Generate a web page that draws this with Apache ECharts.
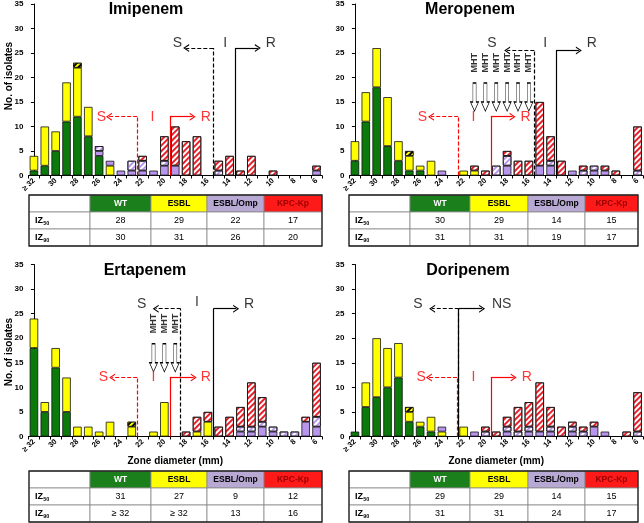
<!DOCTYPE html>
<html><head><meta charset="utf-8">
<script src="https://cdn.jsdelivr.net/npm/echarts@6/dist/echarts.min.js"></script>
<style>html,body{margin:0;padding:0;background:#fff}#c{width:644px;height:523px}</style>
</head><body><div id="c"></div>
<script>
// ---------- DATA ----------
const categories = ['≥ 32','31','30','29','28','27','26','25','24','23','22','21','20','19','18','17','16','15','14','13','12','11','10','9','8','7','6'];
const drugNames = ['Imipenem','Meropenem','Ertapenem','Doripenem'];
const groupNames = ['WT','ESBL','ESBL/Omp','KPC-Kp'];

const imipenemWT    = [1,2,5,11,12,8,4,0,0,0,0,0,0,0,0,0,0,0,0,0,0,0,0,0,0,0,0];
const imipenemESBL  = [3,8,4,8,10,6,0,2,0,0,0,0,0,0,0,0,0,0,0,0,0,0,0,0,0,0,0];
const imipenemESBLx = [0,0,0,0,1,0,0,0,0,0,0,0,0,0,0,0,0,0,0,0,0,0,0,0,0,0,0];
const imipenemOmp   = [0,0,0,0,0,0,1,1,1,1,1,1,2,2,0,0,0,0,0,0,0,0,0,0,0,0,1];
const imipenemOmpH  = [0,0,0,0,0,0,1,0,0,2,2,0,1,0,0,0,0,1,0,0,0,0,0,0,0,0,0];
const imipenemKPC   = [0,0,0,0,0,0,0,0,0,0,1,0,5,8,7,8,0,2,4,1,4,0,1,0,0,0,1];

const meropenemWT    = [3,11,18,6,3,1,1,0,0,0,0,0,0,0,0,0,0,0,0,0,0,0,0,0,0,0,0];
const meropenemESBL  = [4,6,8,10,4,3,1,3,0,0,1,1,0,0,0,0,0,0,0,0,0,0,0,0,0,0,0];
const meropenemESBLx = [0,0,0,0,0,1,0,0,0,0,0,0,0,0,0,0,0,0,0,0,0,0,0,0,0,0,0];
const meropenemOmp   = [0,0,0,0,0,0,0,0,1,0,0,0,0,0,2,0,0,2,2,0,1,0,1,1,0,0,0];
const meropenemOmpH  = [0,0,0,0,0,0,0,0,0,0,0,0,0,2,2,0,0,0,1,0,0,1,1,0,0,0,1];
const meropenemKPC   = [0,0,0,0,0,0,0,0,0,0,0,1,1,0,1,3,3,13,5,3,0,1,0,1,1,0,9];

const ertapenemWT    = [18,5,14,5,0,0,0,0,0,0,0,0,0,0,0,0,0,0,0,0,0,0,0,0,0,0,0];
const ertapenemESBL  = [6,2,4,7,2,2,1,3,0,2,0,1,7,0,0,1,3,0,0,0,0,0,0,0,0,0,0];
const ertapenemESBLx = [0,0,0,0,0,0,0,0,0,1,0,0,0,0,0,0,0,0,0,0,0,0,0,0,0,0,0];
const ertapenemOmp   = [0,0,0,0,0,0,0,0,0,0,0,0,0,0,0,0,0,0,0,1,1,2,1,0,0,3,2];
const ertapenemOmpH  = [0,0,0,0,0,0,0,0,0,0,0,0,0,0,0,0,0,0,0,1,1,1,1,1,1,0,2];
const ertapenemKPC   = [0,0,0,0,0,0,0,0,0,0,0,0,0,0,1,3,2,2,4,4,9,5,0,0,0,1,11];

const doripenemWT    = [1,6,8,10,12,3,2,1,0,0,0,0,0,0,0,0,0,0,0,0,0,0,0,0,0,0,0];
const doripenemESBL  = [0,5,12,8,7,2,1,3,1,0,2,0,0,0,0,0,0,0,0,0,0,0,0,0,0,0,0];
const doripenemESBLx = [0,0,0,0,0,1,0,0,0,0,0,0,0,0,0,0,0,0,0,0,0,0,0,0,0,0,0];
const doripenemOmp   = [0,0,0,0,0,0,0,0,1,0,0,1,0,0,1,0,1,1,1,0,1,0,2,1,0,0,0];
const doripenemOmpH  = [0,0,0,0,0,0,0,0,0,0,0,0,1,0,1,1,1,0,1,0,1,1,0,0,0,0,1];
const doripenemKPC   = [0,0,0,0,0,0,0,0,0,0,0,0,1,1,2,5,5,10,4,2,1,1,1,0,0,1,8];

const imipenemIZ50  = ['28','29','22','17'];
const imipenemIZ90  = ['30','31','26','20'];
const meropenemIZ50 = ['30','29','14','15'];
const meropenemIZ90 = ['31','31','19','17'];
const ertapenemIZ50 = ['31','27','9','12'];
const ertapenemIZ90 = ['≥ 32','≥ 32','13','16'];
const doripenemIZ50 = ['29','29','14','15'];
const doripenemIZ90 = ['31','31','24','17'];

// breakpoint guides (positions in category units; 0 = "≥ 32")
const imipenemGuides  = [{x:9.5,y:12,to:6.9,d:true,c:'red'},{x:12.5,y:12,to:14.6,d:false,c:'red'},{x:16.5,y:26,to:14.0,d:true,c:'black'},{x:18.5,y:26,to:20.6,d:false,c:'black'}];
const imipenemMarks   = [{x:6.2,y:12,t:'S',c:'red'},{x:10.9,y:12,t:'I',c:'red'},{x:15.8,y:12,t:'R',c:'red'},{x:13.2,y:27,t:'S',c:'black'},{x:17.6,y:27,t:'I',c:'black'},{x:21.8,y:27,t:'R',c:'black'}];
const meropenemGuides = [{x:9.5,y:12,to:7.0,d:true,c:'red'},{x:12.5,y:12,to:14.5,d:false,c:'red'},{x:16.5,y:25.5,to:14.0,d:true,c:'black'},{x:18.5,y:25.5,to:20.6,d:false,c:'black'}];
const meropenemMarks  = [{x:6.2,y:12,t:'S',c:'red'},{x:10.9,y:12,t:'I',c:'red'},{x:15.7,y:12,t:'R',c:'red'},{x:12.6,y:27,t:'S',c:'black'},{x:17.5,y:27,t:'I',c:'black'},{x:21.8,y:27,t:'R',c:'black'}];
const meropenemMHT    = [11,12,13,14,15,16];
const ertapenemGuides = [{x:9.5,y:12,to:7.2,d:true,c:'red'},{x:12.5,y:12,to:14.7,d:false,c:'red'},{x:13.5,y:26,to:11.2,d:true,c:'black'},{x:16.5,y:26,to:18.6,d:false,c:'black'}];
const ertapenemMarks  = [{x:6.4,y:12,t:'S',c:'red'},{x:11.0,y:12,t:'I',c:'red'},{x:15.8,y:12,t:'R',c:'red'},{x:9.9,y:27,t:'S',c:'black'},{x:15.0,y:27.3,t:'I',c:'black'},{x:19.8,y:27,t:'R',c:'black'}];
const ertapenemMHT    = [11,12,13];
const doripenemGuides = [{x:9.4,y:12,to:6.8,d:true,c:'red'},{x:12.5,y:12,to:14.6,d:false,c:'red'},{x:9.55,y:26,to:7.1,d:true,c:'black'},{x:9.55,y:26,to:11.7,d:false,c:'black'}];
const doripenemMarks  = [{x:6.1,y:12,t:'S',c:'red'},{x:10.9,y:12,t:'I',c:'red'},{x:15.8,y:12,t:'R',c:'red'},{x:5.8,y:27,t:'S',c:'black'},{x:13.5,y:27,t:'NS',c:'black'}];

// ---------- LAYOUT / STYLE ----------
const FONT = 'Arial, "Liberation Sans", sans-serif';
const GREEN = '#0b7a0b', YELLOW = '#ffff00', LAV = '#b996ee', RED = '#e8202a';
const GW = 293.5, GH = 172;
const panels = [
  {wt:imipenemWT, esbl:imipenemESBL, esblx:imipenemESBLx, omp:imipenemOmp, omph:imipenemOmpH, kpc:imipenemKPC, iz50:imipenemIZ50, iz90:imipenemIZ90, guides:imipenemGuides, marks:imipenemMarks, mht:[], left:28.5, top:3.5, bottomRow:false},
  {wt:meropenemWT, esbl:meropenemESBL, esblx:meropenemESBLx, omp:meropenemOmp, omph:meropenemOmpH, kpc:meropenemKPC, iz50:meropenemIZ50, iz90:meropenemIZ90, guides:meropenemGuides, marks:meropenemMarks, mht:meropenemMHT, left:349.5, top:3.5, bottomRow:false},
  {wt:ertapenemWT, esbl:ertapenemESBL, esblx:ertapenemESBLx, omp:ertapenemOmp, omph:ertapenemOmpH, kpc:ertapenemKPC, iz50:ertapenemIZ50, iz90:ertapenemIZ90, guides:ertapenemGuides, marks:ertapenemMarks, mht:ertapenemMHT, left:28.5, top:264.5, bottomRow:true},
  {wt:doripenemWT, esbl:doripenemESBL, esblx:doripenemESBLx, omp:doripenemOmp, omph:doripenemOmpH, kpc:doripenemKPC, iz50:doripenemIZ50, iz90:doripenemIZ90, guides:doripenemGuides, marks:doripenemMarks, mht:[], left:349.5, top:264.5, bottomRow:true}
];

function stripes(color){
  return {symbol:'rect', symbolSize:1, color:color, dashArrayX:[1,0], dashArrayY:[1.6,1.6], rotation:-Math.PI/4};
}
const barStyles = [
  {key:'wt', style:{color:GREEN}},
  {key:'esbl', style:{color:YELLOW}},
  {key:'esblx', style:{color:'#000', decal:stripes(YELLOW)}},
  {key:'omp', style:{color:LAV}},
  {key:'omph', style:{color:'#fff', decal:stripes(LAV)}},
  {key:'kpc', style:{color:'#fff', decal:stripes(RED)}}
];
const CHEVRON = 'path://M0,10 L5,0 L10,10 L8.4,10 L5,3.2 L1.6,10 Z';
const MHT_ARROW = 'path://M3,0 L7,0 L7,19 L10,19 L5,28 L0,19 L3,19 Z';

const grid = [], xAxis = [], yAxis = [], series = [], graphic = [];

panels.forEach((p, k) => {
  grid.push({left:p.left, top:p.top, width:GW, height:GH, containLabel:false});
  xAxis.push({
    type:'category', gridIndex:k, data:categories,
    axisLine:{lineStyle:{color:'#000', width:1}},
    axisTick:{show:true, interval:0, length:3, lineStyle:{color:'#000'}},
    axisLabel:{interval:1, rotate:45, fontSize:7.5, fontWeight:'bold', color:'#000', fontFamily:FONT, margin:4},
    name: p.bottomRow ? 'Zone diameter (mm)' : '',
    nameLocation:'middle', nameGap:20,
    nameTextStyle:{fontSize:10, fontWeight:'bold', color:'#000', fontFamily:FONT}
  });
  xAxis.push({type:'value', gridIndex:k, min:-0.5, max:26.5, show:false});
  yAxis.push({
    type:'value', gridIndex:k, min:0, max:35, interval:5,
    splitLine:{show:false},
    axisLine:{show:true, lineStyle:{color:'#000', width:1}},
    axisTick:{show:true, length:3, lineStyle:{color:'#000'}},
    axisLabel:{fontSize:8, fontWeight:'bold', color:'#000', fontFamily:FONT, margin:5}
  });
  barStyles.forEach(b => {
    series.push({
      type:'bar', xAxisIndex:2*k, yAxisIndex:k, stack:'s'+k, barWidth:8.5, silent:true,
      data: p[b.key].map(v => v ? v : '-'),
      itemStyle: Object.assign({borderColor:'#111', borderWidth:0.8}, b.style)
    });
  });
  // guides + S/I/R labels
  const ml = [];
  p.guides.forEach(g => {
    const ls = {color:g.c, width:1.2, type: g.d ? [4,2] : 'solid'};
    ml.push([{coord:[g.x,0], lineStyle:ls}, {coord:[g.x,g.y]}]);
    ml.push([{coord:[g.x,g.y], lineStyle:ls}, {coord:[g.to,g.y], symbol:CHEVRON, symbolSize:[8,6]}]);
  });
  series.push({
    type:'scatter', xAxisIndex:2*k+1, yAxisIndex:k, symbolSize:0, silent:true, z:5,
    data: p.marks.map(m => ({value:[m.x,m.y], label:{show:true, position:'inside', formatter:m.t, color:m.c, fontSize:14, fontFamily:FONT}})),
    markLine:{silent:true, symbol:['none','none'], label:{show:false}, data:ml}
  });
  if (p.mht.length) {
    series.push({
      type:'scatter', xAxisIndex:2*k+1, yAxisIndex:k, silent:true, z:5,
      symbol:MHT_ARROW, symbolSize:[8,28],
      itemStyle:{color:'#fff', borderColor:'#000', borderWidth:0.8, opacity:1},
      data: p.mht.map(x => [x, 16])
    });
    series.push({
      type:'scatter', xAxisIndex:2*k+1, yAxisIndex:k, silent:true, z:5, symbolSize:0,
      label:{show:true, position:'inside', formatter:'MHT', rotate:90, fontSize:9, fontWeight:'bold', color:'#000', fontFamily:FONT},
      data: p.mht.map(x => [x, 23])
    });
  }
});

// ---------- titles, axis names, tables (graphic) ----------
function txt(x, y, t, font, fill, extra){
  graphic.push(Object.assign({type:'text', x:x, y:y, silent:true,
    style:{text:t, font:font, fill:fill||'#000', align:'center', verticalAlign:'middle', textAlign:'center', textVerticalAlign:'middle'}}, extra||{}));
}
const titlePos = [[146,10],[470,10],[145,271],[468,271]];
drugNames.forEach((n,i) => txt(titlePos[i][0], titlePos[i][1], n, 'bold 16px '+FONT));
txt(9, 76, 'No. of isolates', 'bold 10px '+FONT, '#000', {rotation:Math.PI/2});
txt(9, 352, 'No. of isolates', 'bold 10px '+FONT, '#000', {rotation:Math.PI/2});

const headFill = ['#ffffff','#1b7f1b','#ffff00','#b8a8d4','#ff1a1a'];
const headText = ['#000','#ffffff','#000','#000','#9b0000'];
function table(cols, rows, iz50, iz90){
  for (let r = 0; r < 3; r++) {
    for (let c = 0; c < 5; c++) {
      graphic.push({type:'rect', silent:true,
        shape:{x:cols[c], y:rows[r], width:cols[c+1]-cols[c], height:rows[r+1]-rows[r]},
        style:{fill: r===0 ? headFill[c] : '#fff', stroke:'#888', lineWidth:0.8}});
    }
  }
  graphic.push({type:'rect', silent:true, z:10,
    shape:{x:cols[0], y:rows[0], width:cols[5]-cols[0], height:rows[3]-rows[0]},
    style:{fill:null, stroke:'#222', lineWidth:1.3}});
  for (let c = 1; c < 5; c++) {
    const cx = (cols[c]+cols[c+1])/2;
    txt(cx, (rows[0]+rows[1])/2, groupNames[c-1], 'bold 8.5px '+FONT, headText[c], {z:11});
    txt(cx, (rows[1]+rows[2])/2, iz50[c-1], '9px '+FONT, '#000', {z:11});
    txt(cx, (rows[2]+rows[3])/2, iz90[c-1], '9px '+FONT, '#000', {z:11});
  }
  const lab = [['50',(rows[1]+rows[2])/2],['90',(rows[2]+rows[3])/2]];
  lab.forEach(l => {
    graphic.push({type:'text', x:cols[0]+6, y:l[1], silent:true, z:11,
      style:{text:'IZ', font:'bold 9px '+FONT, fill:'#000', align:'left', verticalAlign:'middle', textAlign:'left', textVerticalAlign:'middle'}});
    graphic.push({type:'text', x:cols[0]+14.2, y:l[1]+2.5, silent:true, z:11,
      style:{text:l[0], font:'bold 5.5px '+FONT, fill:'#000', align:'left', verticalAlign:'middle', textAlign:'left', textVerticalAlign:'middle'}});
  });
}
const colsL = [29,90,151,207,264,322], colsR = [349,410,470,528,585,638];
table(colsL, [195,212,229,246], imipenemIZ50, imipenemIZ90);
table(colsR, [195,212,229,246], meropenemIZ50, meropenemIZ90);
table(colsL, [471,488,505,522], ertapenemIZ50, ertapenemIZ90);
table(colsR, [471,488,505,522], doripenemIZ50, doripenemIZ90);

const chart = echarts.init(document.getElementById('c'), null, {renderer:'canvas'});
chart.setOption({
  animation:false, backgroundColor:'#fff',
  textStyle:{fontFamily:FONT},
  grid, xAxis, yAxis, series, graphic
});
</script></body></html>
